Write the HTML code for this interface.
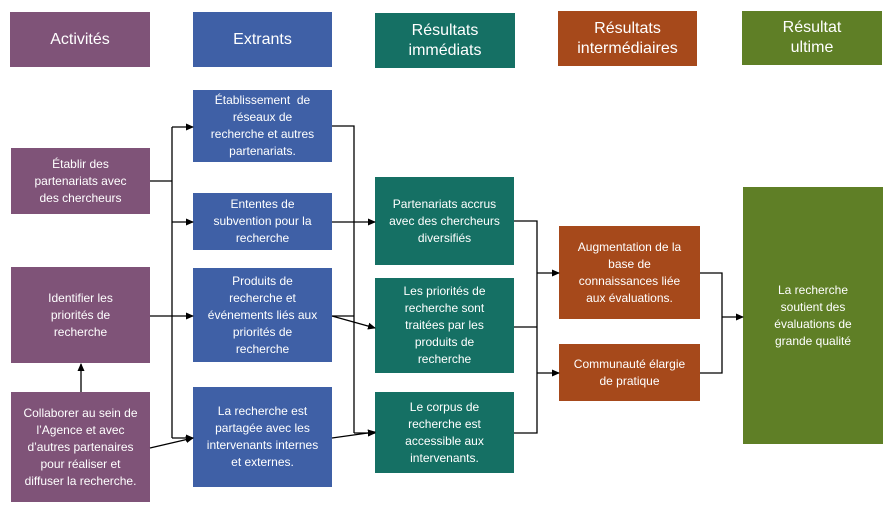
<!DOCTYPE html>
<html><head><meta charset="utf-8"><style>
body{margin:0;width:893px;height:513px;background:#fff;position:relative;overflow:hidden;font-family:"Liberation Sans",sans-serif}
.b{position:absolute;display:flex;align-items:center;justify-content:center;text-align:center;color:#fff;font-size:12px;line-height:17px;box-sizing:border-box;padding:0 13px}
.h{font-size:16px;line-height:20px;padding:0 22px}
.p{background:#7f5378}.bl{background:#3f60a6}.t{background:#157064}.o{background:#a6491b}.g{background:#5f7f26}
svg{position:absolute;left:0;top:0}
</style></head><body>
<div class="b h p" style="left:10px;top:12px;width:140px;height:55px">Activités</div>
<div class="b h bl" style="left:193px;top:12px;width:139px;height:55px">Extrants</div>
<div class="b h t" style="left:375px;top:13px;width:140px;height:55px">Résultats immédiats</div>
<div class="b h o" style="left:558px;top:11px;width:139px;height:55px;padding:0 4px">Résultats intermédiaires</div>
<div class="b h g" style="left:742px;top:11px;width:140px;height:54px">Résultat ultime</div>

<div class="b p" style="left:11px;top:148px;width:139px;height:66px">Établir des partenariats avec des chercheurs</div>
<div class="b p" style="left:11px;top:267px;width:139px;height:96px;padding:0 25px">Identifier les priorités de recherche</div>
<div class="b p" style="left:11px;top:392px;width:139px;height:110px;padding:0 10px">Collaborer au sein de l’Agence et avec d’autres partenaires pour réaliser et diffuser la recherche.</div>

<div class="b bl" style="left:193px;top:90px;width:139px;height:72px;padding:0 16px">Établissement&nbsp; de réseaux de recherche et autres partenariats.</div>
<div class="b bl" style="left:193px;top:193px;width:139px;height:57px;padding:0 16px">Ententes de subvention pour la recherche</div>
<div class="b bl" style="left:193px;top:268px;width:139px;height:94px;padding:0 12px">Produits de<br>recherche et<br>événements liés aux priorités de recherche</div>
<div class="b bl" style="left:193px;top:387px;width:139px;height:100px">La recherche est partagée avec les intervenants internes et externes.</div>

<div class="b t" style="left:375px;top:177px;width:139px;height:88px">Partenariats accrus avec des chercheurs diversifiés</div>
<div class="b t" style="left:375px;top:278px;width:139px;height:95px;padding:0 16px">Les priorités de recherche sont traitées par les produits de recherche</div>
<div class="b t" style="left:375px;top:392px;width:139px;height:81px;padding:0 22px">Le corpus de recherche est accessible aux intervenants.</div>

<div class="b o" style="left:559px;top:226px;width:141px;height:93px">Augmentation de la base de connaissances liée aux évaluations.</div>
<div class="b o" style="left:559px;top:344px;width:141px;height:57px;padding:0 8px">Communauté élargie de pratique</div>

<div class="b g" style="left:743px;top:187px;width:140px;height:257px;padding:0 22px">La recherche soutient des évaluations de grande qualité</div>

<svg width="893" height="513" viewBox="0 0 893 513">
<defs><marker id="a" markerWidth="8" markerHeight="8" refX="7" refY="4" orient="auto" markerUnits="userSpaceOnUse"><path d="M0,0.5 L8,4 L0,7.5z" fill="#000"/></marker></defs>
<g stroke="#000" stroke-width="1.3" fill="none">
<path d="M150 181H172M172 127V438"/>
<path d="M172 127H193" marker-end="url(#a)"/>
<path d="M172 222H193" marker-end="url(#a)"/>
<path d="M150 316H193" marker-end="url(#a)"/>
<path d="M172 438H193" marker-end="url(#a)"/>
<path d="M150 448L193 438" marker-end="url(#a)"/>
<path d="M81 392V364" marker-end="url(#a)"/>
<path d="M332 126H354V433"/>
<path d="M332 222H375" marker-end="url(#a)"/>
<path d="M332 316H354"/>
<path d="M332 316L375 328" marker-end="url(#a)"/>
<path d="M332 438L375 432" marker-end="url(#a)"/>
<path d="M354 433H375" marker-end="url(#a)"/>
<path d="M514 221H537V433H514M514 327H537"/>
<path d="M537 273H559" marker-end="url(#a)"/>
<path d="M537 373H559" marker-end="url(#a)"/>
<path d="M700 273H722V373H700"/>
<path d="M722 317H743" marker-end="url(#a)"/>
</g></svg>
</body></html>
